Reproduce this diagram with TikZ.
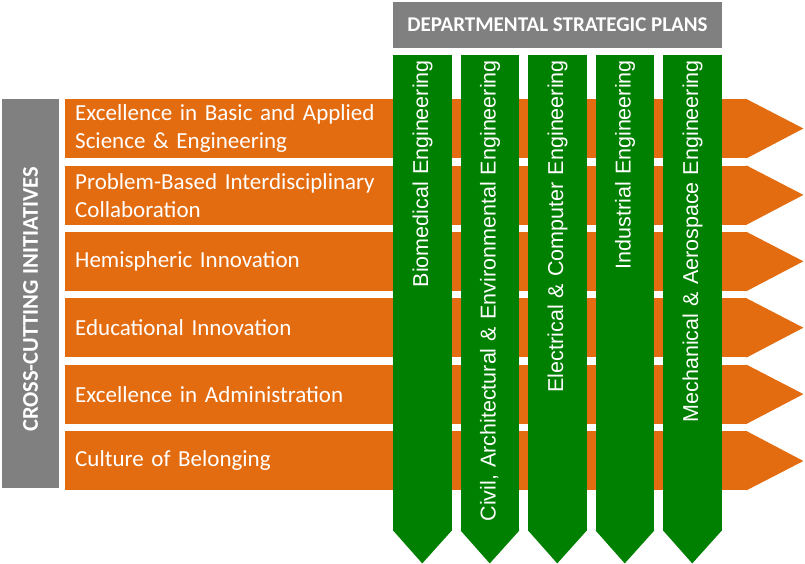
\documentclass[tikz,border=0pt]{standalone}
\usepackage{fontspec}
\setmainfont{Carlito}
\newfontfamily\arialfont{Liberation Sans}
\usetikzlibrary{positioning}
\definecolor{naranja}{RGB}{228,108,16}
\definecolor{verde}{RGB}{0,128,0}
\definecolor{gris}{RGB}{128,128,128}

\begin{document}
\begin{tikzpicture}[
  x=1pt,y=-1pt,
  node distance=7pt,
  fila/.style={fill=naranja,text=white,minimum height=59pt,
               text width=662pt,inner xsep=10pt,align=left,
               font=\fontsize{23}{28}\selectfont},
  depto/.style={fill=verde,text=white,rotate=90,anchor=north east,
               minimum height=58.5pt,text width=466pt,inner xsep=5pt,
               align=right,font=\arialfont\fontsize{21.5}{25}\selectfont},
  rotulo/.style={fill=gris,text=white,font=\bfseries\fontsize{21}{24}\selectfont}
]
\useasboundingbox (0,0) rectangle (805,564);

% initiatives
\node[fila,anchor=north west] (exc) at (65,99) {Excellence in Basic and Applied\\Science \& Engineering};
\node[fila,below=of exc] (pbl) {Problem-Based Interdisciplinary\\Collaboration};
\node[fila,below=of pbl] (hem) {Hemispheric Innovation};
\node[fila,below=of hem] (edu) {Educational Innovation};
\node[fila,below=of edu] (adm) {Excellence in Administration};
\node[fila,below=of adm] (cob) {Culture of Belonging};

\fill[naranja] ([xshift=-1pt]exc.north east) -- ++(57,29.5) -- ([xshift=-1pt]exc.south east) -- cycle;
\fill[naranja] ([xshift=-1pt]pbl.north east) -- ++(57,29.5) -- ([xshift=-1pt]pbl.south east) -- cycle;
\fill[naranja] ([xshift=-1pt]hem.north east) -- ++(57,29.5) -- ([xshift=-1pt]hem.south east) -- cycle;
\fill[naranja] ([xshift=-1pt]edu.north east) -- ++(57,29.5) -- ([xshift=-1pt]edu.south east) -- cycle;
\fill[naranja] ([xshift=-1pt]adm.north east) -- ++(57,29.5) -- ([xshift=-1pt]adm.south east) -- cycle;
\fill[naranja] ([xshift=-1pt]cob.north east) -- ++(57,30) -- ([xshift=-1pt]cob.south east) -- cycle;

% departments
\node[depto] (bme) at (393,55) {Biomedical Engineering};
\node[depto] (caee) at (460.5,55) {Civil, Architectural \& Environmental Engineering};
\node[depto] (ece) at (528,55) {Electrical \& Computer Engineering};
\node[depto] (ine) at (595.5,55) {Industrial Engineering};
\node[depto] (mae) at (663,55) {Mechanical \& Aerospace Engineering};

\fill[verde] ([yshift=1pt]bme.north west) -- ++(29.25,33) -- ([yshift=1pt]bme.south west) -- cycle;
\fill[verde] ([yshift=1pt]caee.north west) -- ++(29.25,33) -- ([yshift=1pt]caee.south west) -- cycle;
\fill[verde] ([yshift=1pt]ece.north west) -- ++(29.25,33) -- ([yshift=1pt]ece.south west) -- cycle;
\fill[verde] ([yshift=1pt]ine.north west) -- ++(29.25,33) -- ([yshift=1pt]ine.south west) -- cycle;
\fill[verde] ([yshift=1pt]mae.north west) -- ++(29.25,33) -- ([yshift=1pt]mae.south west) -- cycle;

% headers
\node[rotulo,rotate=90,minimum width=389pt,minimum height=57pt,font=\bfseries\fontsize{22.5}{26}\selectfont] (cci) at (30.5,293.5) {CROSS-CUTTING INITIATIVES\hspace*{12pt}};
\node[rotulo,minimum width=329pt,minimum height=46pt] (dsp) at (557.5,25) {DEPARTMENTAL STRATEGIC PLANS};
\end{tikzpicture}
\end{document}
